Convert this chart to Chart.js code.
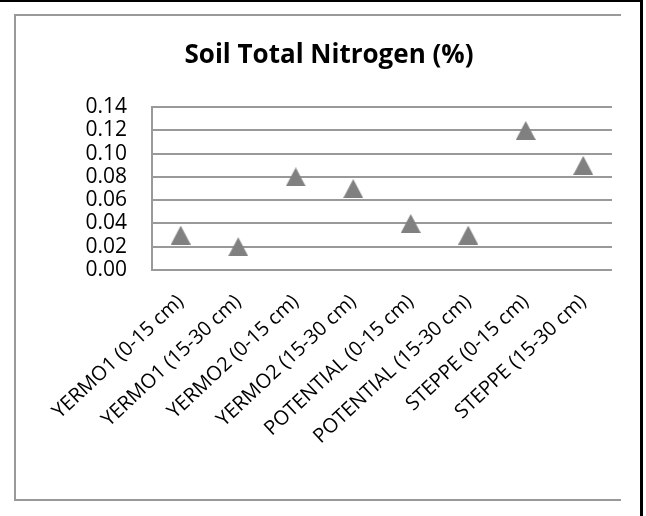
<!DOCTYPE html>
<html>
<head>
<meta charset="utf-8">
<script src="https://cdn.jsdelivr.net/npm/chart.js@4"></script>
<style>
  html, body { margin: 0; padding: 0; background: #fff; }
  #frame { position: absolute; left: 0; top: 0; width: 640px; height: 514px;
           border-top: 2px solid #000; border-right: 3px solid #000; }
  #box { position: absolute; left: 14px; top: 14px; width: 605px; height: 483px;
         border-left: 2px solid #999; border-top: 2px solid #999; border-bottom: 2px solid #999; }
  #chart { position: absolute; left: 0; top: 0; }
</style>
</head>
<body>
<div id="frame"></div>
<div id="box"></div>
<canvas id="chart" width="646" height="516"></canvas>
<script>
const categories = [
  "YERMO1 (0-15 cm)", "YERMO1 (15-30 cm)", "YERMO2 (0-15 cm)", "YERMO2 (15-30 cm)",
  "POTENTIAL (0-15 cm)", "POTENTIAL (15-30 cm)", "STEPPE (0-15 cm)", "STEPPE (15-30 cm)"
];
const nitrogen = [0.03, 0.02, 0.08, 0.07, 0.04, 0.03, 0.12, 0.09];
const yTicks = [0, 0.02, 0.04, 0.06, 0.08, 0.10, 0.12, 0.14];

// triangle marker like the Excel one
const marker = document.createElement("canvas");
marker.width = 20;
marker.height = 19;
const mctx = marker.getContext("2d");
mctx.fillStyle = "#808080";
mctx.beginPath();
mctx.moveTo(10, 0);
mctx.lineTo(20, 19);
mctx.lineTo(0, 19);
mctx.closePath();
mctx.fill();

Chart.defaults.font.family = "'Open Sans', sans-serif";
Chart.defaults.color = "#000";

new Chart(document.getElementById("chart").getContext("2d"), {
  type: "line",
  data: {
    labels: categories,
    datasets: [{
      data: nitrogen,
      showLine: false,
      pointStyle: marker,
      backgroundColor: "#808080",
      borderColor: "#808080",
    }],
  },
  options: {
    responsive: false,
    animation: false,
    layout: { padding: { left: 46, right: 34, top: 20, bottom: 0 } },
    plugins: {
      legend: { display: false },
      tooltip: { enabled: false },
      title: {
        display: true,
        text: "Soil Total Nitrogen (%)",
        color: "#000",
        font: { size: 26, weight: "bold", lineHeight: 1.2 },
        padding: { top: 20, bottom: 36 },
      },
    },
    scales: {
      x: {
        offset: true,
        grid: { display: false },
        border: { display: false },
        ticks: {
          autoSkip: false,
          minRotation: 43,
          maxRotation: 43,
          padding: 12,
          font: { size: 20 },
          color: "#000",
        },
        afterFit: (scale) => { scale.height = 246; },
      },
      y: {
        min: 0,
        max: 0.14,
        grid: { color: "#999", lineWidth: 2, drawTicks: false },
        border: { display: true, color: "#999", width: 2 },
        ticks: {
          autoSkip: false,
          padding: 25,
          font: { size: 21, lineHeight: 1 },
          color: "#000",
          callback: (v) => Number(v).toFixed(2),
        },
        afterBuildTicks: (scale) => { scale.ticks = yTicks.map((v) => ({ value: v })); },
        afterFit: (scale) => { scale.width = 106; },
      },
    },
  },
});
</script>
</body>
</html>
